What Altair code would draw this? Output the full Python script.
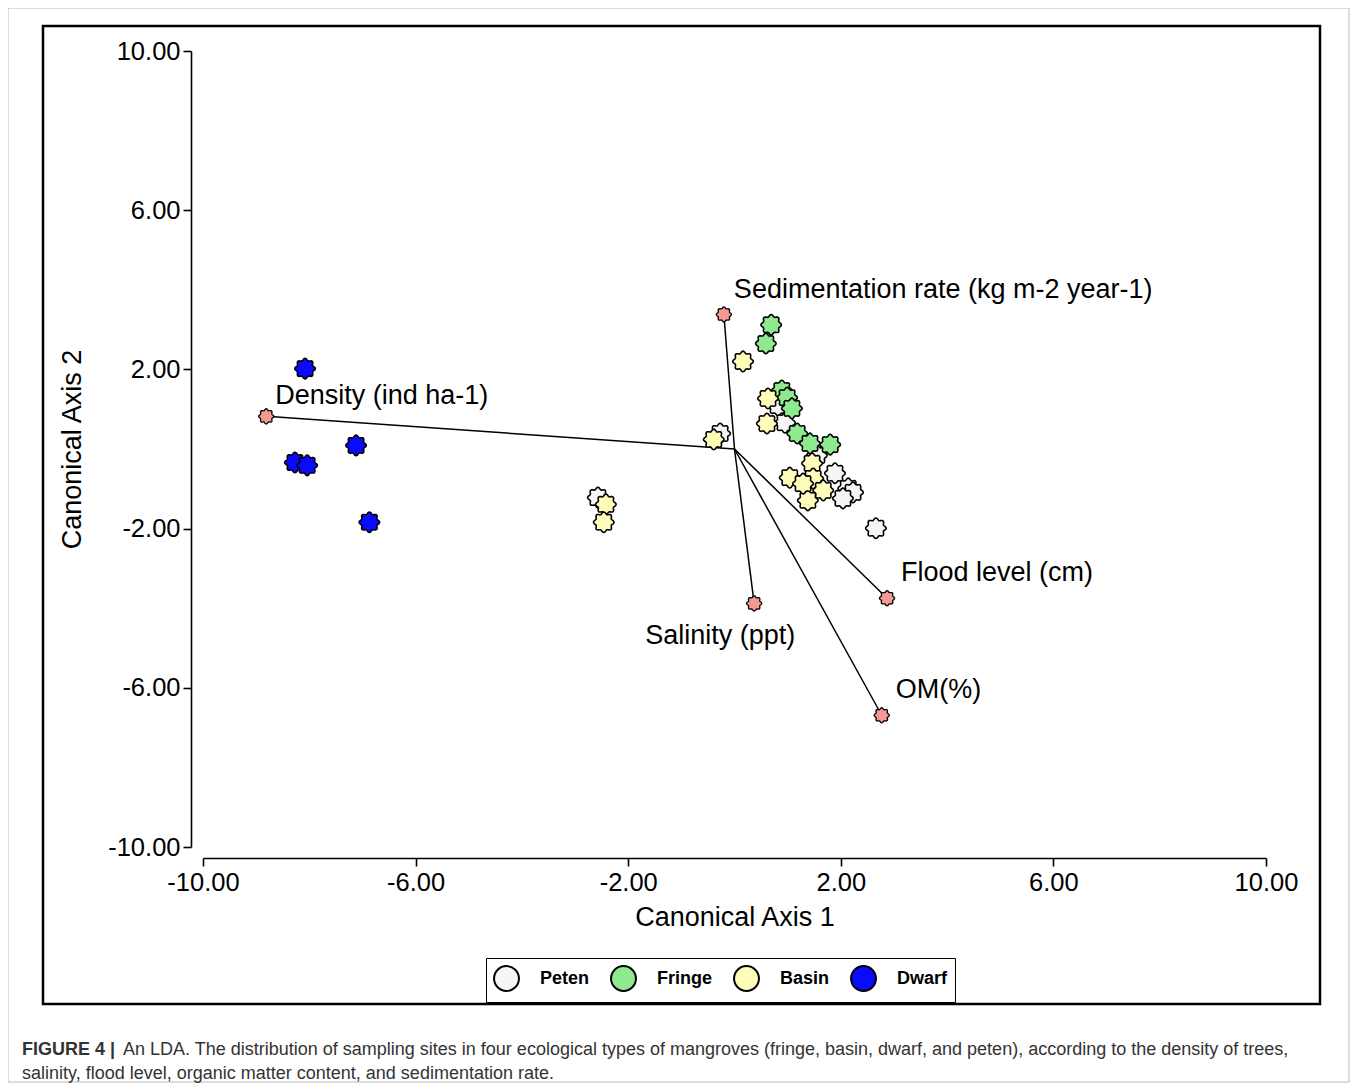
import altair as alt
import pandas as pd
import numpy as np

# ---------------- data ----------------
peten_x = [-0.27, -2.57, 0.82, 0.95, 1.55, 1.89, 2.14, 2.23, 2.04, 2.66]
peten_y = [0.39, -1.22, 1.09, 0.66, -0.16, -0.61, -0.99, -1.09, -1.24, -1.99]

fringe_x = [0.69, 0.59, 0.89, 0.99, 1.08, 1.18, 1.42, 1.80]
fringe_y = [3.12, 2.65, 1.47, 1.29, 1.02, 0.39, 0.14, 0.11]

basin_x = [0.16, -0.39, -2.42, -2.46, 0.63, 0.61, 1.46, 1.04, 1.48, 1.67, 1.38, 1.29]
basin_y = [2.20, 0.24, -1.39, -1.84, 1.27, 0.64, -0.36, -0.72, -0.74, -1.04, -1.29, -0.87]

dwarf_x = [-8.08, -7.12, -8.27, -8.04, -6.87]
dwarf_y = [2.02, 0.09, -0.34, -0.41, -1.84]

groups = ["Peten", "Fringe", "Basin", "Dwarf"]
group_colors = ["#f5f5f5", "#8fea8f", "#fffbb8", "#0a0aff"]

vec_names = ["Sedimentation rate (kg m-2 year-1)", "Density (ind ha-1)",
             "Salinity (ppt)", "Flood level (cm)", "OM(%)"]
vec_x = [-0.20, -8.81, 0.37, 2.87, 2.77]
vec_y = [3.38, 0.82, -3.88, -3.75, -6.69]

ticks = [-10, -6, -2, 2, 6, 10]

caption_bold = "FIGURE 4 |"
caption_1 = ("An LDA. The distribution of sampling sites in four ecological types of mangroves "
             "(fringe, basin, dwarf, and peten), according to the density of trees,")
caption_2 = "salinity, flood level, organic matter content, and sedimentation rate."

# ---------------- tables ----------------
rows = []
for g, xs_, ys_ in [("Peten", peten_x, peten_y), ("Fringe", fringe_x, fringe_y),
                    ("Basin", basin_x, basin_y), ("Dwarf", dwarf_x, dwarf_y)]:
    for a, b in zip(xs_, ys_):
        rows.append({"group": g, "x": a, "y": b, "order": groups.index(g)})
pts = pd.DataFrame(rows)

vecs = pd.DataFrame({"name": vec_names, "x": vec_x, "y": vec_y,
                     "x0": [0.0] * len(vec_x), "y0": [0.0] * len(vec_x)})

# scalloped marker shape
th = np.linspace(0, 2 * np.pi, 97)[:-1]
r = 0.9 + 0.1 * np.cos(8 * th)
star = "M" + " L".join(f"{r_ * np.cos(t):.3f},{r_ * np.sin(t):.3f}" for r_, t in zip(r, th)) + " Z"

FONT = "Liberation Sans, Arial, sans-serif"
LABEL_EXPR = "(datum.value < 0 ? '-' : '') + format(abs(datum.value), '.2f')"

xs = alt.Scale(domain=[-10, 10], nice=False, zero=False)
ys = alt.Scale(domain=[-10, 10], nice=False, zero=False)

common = dict(values=ticks, labelExpr=LABEL_EXPR, grid=False, labelFontSize=25.5,
              titleFontSize=27, labelFont=FONT, titleFont=FONT, titleFontWeight="normal",
              labelColor="black", titleColor="black", domainColor="black", tickColor="black",
              domainWidth=1.6, tickWidth=1.6, tickSize=8, labelFlush=False)
xaxis = alt.Axis(offset=11, title="Canonical Axis 1", labelPadding=4, titlePadding=9, **common)
yaxis = alt.Axis(offset=12, title="Canonical Axis 2", labelPadding=3, titlePadding=21, **common)

one = pd.DataFrame({"k": [0]})

# frames
outer = alt.Chart(one).mark_rect(filled=False, stroke="#bbbbbb", strokeWidth=1).encode(
    x=alt.value(-195), x2=alt.value(1146), y=alt.value(-43), y2=alt.value(1031))
frame = alt.Chart(one).mark_rect(filled=False, stroke="black", strokeWidth=2.5).encode(
    x=alt.value(-160), x2=alt.value(1117), y=alt.value(-25), y2=alt.value(953))

rules = alt.Chart(vecs).mark_rule(color="black", strokeWidth=1.5).encode(
    x=alt.X("x0:Q", scale=xs, axis=xaxis), y=alt.Y("y0:Q", scale=ys, axis=yaxis),
    x2="x:Q", y2="y:Q")

points = alt.Chart(pts).mark_point(shape=star, filled=True, size=420, stroke="black",
                                   strokeWidth=1.6, opacity=1).encode(
    x=alt.X("x:Q", scale=xs, axis=xaxis),
    y=alt.Y("y:Q", scale=ys, axis=yaxis),
    color=alt.Color("group:N", sort=groups,
                    scale=alt.Scale(domain=groups, range=group_colors),
                    legend=alt.Legend(title=None, orient="none", legendX=283, legendY=907,
                                      direction="horizontal", columns=4,
                                      symbolType="circle", symbolSize=620,
                                      symbolStrokeColor="black", symbolStrokeWidth=2,
                                      symbolOpacity=1,
                                      labelFont=FONT, labelFontSize=18, labelFontWeight="bold",
                                      labelColor="black", labelOffset=20, columnPadding=17,
                                      padding=7, strokeColor="black")),
    order="order:Q")

ends = alt.Chart(vecs).mark_point(shape=star, filled=True, size=230, fill="#f59a92",
                                  stroke="black", strokeWidth=1.3, opacity=1).encode(
    x=alt.X("x:Q", scale=xs), y=alt.Y("y:Q", scale=ys))

offsets = {
    vec_names[0]: ("left", 10, -24),
    vec_names[1]: ("left", 9, -20),
    vec_names[2]: ("center", -34, 33),
    vec_names[3]: ("left", 14, -25),
    vec_names[4]: ("left", 14, -25),
}
labels = []
for nm in vec_names:
    al, dx, dy = offsets[nm]
    labels.append(
        alt.Chart(vecs[vecs["name"] == nm]).mark_text(
            align=al, baseline="middle", dx=dx, dy=dy, fontSize=27, font=FONT, color="black"
        ).encode(x=alt.X("x:Q", scale=xs), y=alt.Y("y:Q", scale=ys), text="name:N"))

cap_b = alt.Chart(one).mark_text(align="left", baseline="middle", font=FONT, fontSize=18,
                                 fontWeight="bold", color="#333333", text=caption_bold).encode(
    x=alt.value(-181), y=alt.value(999))
cap_1 = alt.Chart(one).mark_text(align="left", baseline="middle", font=FONT, fontSize=18,
                                 color="#333333", text=caption_1).encode(
    x=alt.value(-80), y=alt.value(999))
cap_2 = alt.Chart(one).mark_text(align="left", baseline="middle", font=FONT, fontSize=18,
                                 color="#333333", text=caption_2).encode(
    x=alt.value(-181), y=alt.value(1023))

chart = alt.layer(outer, frame, rules, points, ends, *labels, cap_b, cap_1, cap_2).properties(
    width=1063, height=796,
    autosize=alt.AutoSizeParams(type="none"),
    padding={"left": 195, "top": 43, "right": 84, "bottom": 236},
).configure(background="white").configure_view(stroke=None)

chart.save("out.html", embed_options={"renderer": "svg", "actions": False})
